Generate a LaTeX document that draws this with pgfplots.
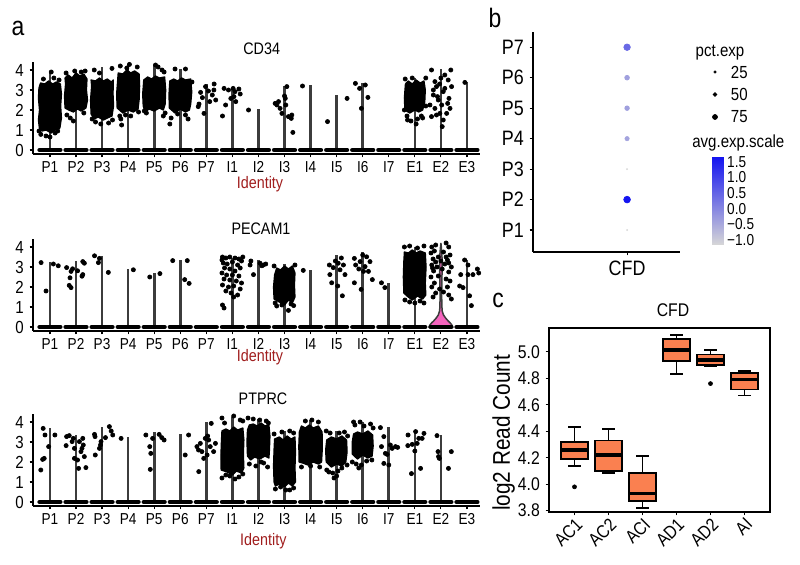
\documentclass[border=0pt]{standalone}
\usepackage{fontspec}
\setmainfont{Liberation Sans}[FakeStretch=0.86]
\usepackage{pgfplots}
\usepackage{pgfplotstable}
\pgfplotsset{compat=1.18}

\definecolor{stem}{RGB}{60,60,60}
\definecolor{idred}{RGB}{160,30,30}
\definecolor{violinpink}{RGB}{245,100,190}
\definecolor{boxorange}{RGB}{250,128,80}

% zero-expression cells: one short band per identity
\pgfplotstableread{
x y
-0.4 0
0.4 0
0.5 nan
0.6 0
1.4 0
1.5 nan
1.6 0
2.4 0
2.5 nan
2.6 0
3.4 0
3.5 nan
3.6 0
4.4 0
4.5 nan
4.6 0
5.4 0
5.5 nan
5.6 0
6.4 0
6.5 nan
6.6 0
7.4 0
7.5 nan
7.6 0
8.4 0
8.5 nan
8.6 0
9.4 0
9.5 nan
9.6 0
10.4 0
10.5 nan
10.6 0
11.4 0
11.5 nan
11.6 0
12.4 0
12.5 nan
12.6 0
13.4 0
13.5 nan
13.6 0
14.4 0
14.5 nan
14.6 0
15.4 0
15.5 nan
15.6 0
16.4 0
}\zeroline

\pgfplotstableread{
x y pct avg
0.64 1 3 -1.0
0.64 2 68 1.5
0.64 3 3 -1.0
0.64 4 40 -0.35
0.64 5 44 -0.3
0.64 6 45 -0.3
0.64 7 66 0.4
}\dotdata

\pgfplotsset{
  /pgf/number format/assume math mode=true,
  vln/.style={
    scale only axis, width=268.2pt, height=55.2pt, anchor=south west,
    xmin=-0.65, xmax=16.5, ymin=-0.2, ymax=4.4,
    axis lines*=left, axis line style={line width=1.1pt},
    xtick={0,...,16},
    xticklabels={P1,P2,P3,P4,P5,P6,P7,I1,I2,I3,I4,I5,I6,I7,E1,E2,E3},
    ytick={0,1,2,3,4},
    tick align=outside, major tick length=2pt,
    tick style={black, line width=0.7pt},
    xticklabel style={font=\fontsize{9.5}{9.5}\selectfont, yshift=1pt},
    yticklabel style={font=\fontsize{10.5}{10.5}\selectfont},
    clip=false,
  },
  stems/.style={ycomb, draw=stem, line width=1.6pt},
  zeros/.style={black, line width=2.6pt, line cap=round, unbounded coords=jump},
  pts/.style={only marks, mark=*, mark size=1.25pt, black},
  core/.style={fill=black, draw=black, line width=0.8pt, line join=round},
  bx/.style={fill=boxorange, draw=black, line width=1.1pt},
}

\begin{document}
\begin{tikzpicture}
\useasboundingbox (0pt,0pt) rectangle (480pt,-339pt);

% panel letters and labels
\node[font=\fontsize{16}{16}\selectfont] at (10.8pt,-17pt) {a};
\node[font=\fontsize{16}{16}\selectfont] at (297pt,-11pt) {b};
\node[font=\fontsize{16}{16}\selectfont] at (298.8pt,-180pt) {c};
\node[font=\fontsize{10}{10}\selectfont] at (157pt,-29.4pt) {CD34};
\node[font=\fontsize{10}{10}\selectfont] at (156.6pt,-137.4pt) {PECAM1};
\node[font=\fontsize{10}{10}\selectfont] at (157.8pt,-239.4pt) {PTPRC};
\node[font=\fontsize{10}{10}\selectfont, text=idred] at (156pt,-110.5pt) {Identity};
\node[font=\fontsize{10}{10}\selectfont, text=idred] at (156pt,-214.5pt) {Identity};
\node[font=\fontsize{10}{10}\selectfont, text=idred] at (158pt,-325pt) {Identity};

% ---------------- a: CD34 ----------------
\begin{axis}[vln, at={(19.8pt,-92.4pt)}]
\addplot[stems] coordinates {(0,3.95) (1,3.95) (2,4.13) (3,4.28) (4,4.23) (5,4.05) (6,3.3) (7,3.12) (8,2.03) (9,3.2) (10,3.25) (11,2.75) (12,3.35) (14,3.62) (15,4.05) (16,3.42)};
\addplot[zeros] table {\zeroline};
\addplot[core] coordinates {(-0.40,1.05) (-0.44,1.5) (-0.40,2.0) (-0.44,2.6) (-0.42,3.1) (-0.36,3.35) (-0.2,3.3) (-0.05,3.45) (0.1,3.3) (0.25,3.4) (0.4,3.3) (0.44,2.8) (0.41,2.2) (0.44,1.6) (0.38,1.1) (0.2,1.0) (0.05,0.85) (-0.15,1.0) (-0.3,0.95)} --cycle;
\addplot[core] coordinates {(0.58,2.1) (0.56,2.7) (0.6,3.3) (0.58,3.6) (0.7,3.75) (0.85,3.6) (1.0,3.85) (1.15,3.7) (1.3,3.8) (1.42,3.55) (1.4,3.0) (1.44,2.5) (1.38,2.1) (1.2,1.95) (1.05,2.05) (0.9,1.9) (0.72,2.0)} --cycle;
\addplot[core] coordinates {(1.58,1.8) (1.56,2.5) (1.6,3.2) (1.58,3.5) (1.75,3.45) (1.9,3.6) (2.05,3.45) (2.2,3.55) (2.35,3.4) (2.43,3.5) (2.42,2.8) (2.44,2.2) (2.38,1.7) (2.2,1.6) (2.05,1.5) (1.85,1.65) (1.7,1.55)} --cycle;
\addplot[core] coordinates {(2.58,2.1) (2.56,2.8) (2.6,3.5) (2.62,3.85) (2.8,3.8) (2.95,4.0) (3.1,3.85) (3.25,3.95) (3.42,3.8) (3.44,3.2) (3.42,2.5) (3.38,2.05) (3.2,1.9) (3.0,2.0) (2.8,1.85)} --cycle;
\addplot[core] coordinates {(3.58,2.2) (3.56,2.8) (3.6,3.5) (3.75,3.65) (3.9,3.55) (4.05,3.7) (4.2,3.6) (4.4,3.65) (4.44,3.0) (4.42,2.3) (4.35,2.0) (4.2,2.1) (4.0,1.95) (3.8,2.05) (3.65,1.9)} --cycle;
\addplot[core] coordinates {(4.58,2.1) (4.57,2.8) (4.6,3.45) (4.75,3.55) (4.9,3.45) (5.05,3.6) (5.2,3.5) (5.4,3.55) (5.44,2.9) (5.4,2.3) (5.35,2.0) (5.2,1.9) (5.0,2.05) (4.8,1.85)} --cycle;
\addplot[core] coordinates {(13.62,2.0) (13.6,2.6) (13.64,3.3) (13.75,3.45) (13.9,3.3) (14.05,3.5) (14.2,3.35) (14.35,3.45) (14.4,3.0) (14.38,2.4) (14.3,2.0) (14.15,1.9) (14.0,2.0) (13.8,1.85)} --cycle;
\addplot[pts] coordinates {
(-0.35,0.78) (-0.15,0.7) (0.0,0.65) (0.2,0.85) (-0.25,3.55) (0.15,3.6) (0.05,3.9) (0.35,3.5) (-0.42,0.95) (0.3,0.95)
(0.65,1.75) (0.78,1.6) (0.9,1.45) (1.3,1.85) (1.35,3.95) (0.95,3.95) (0.62,3.85) (1.2,3.9)
(1.7,4.0) (2.38,4.08) (1.9,3.85) (1.75,1.4) (2.25,1.35) (2.4,1.5) (1.95,1.3) (1.62,1.55)
(2.7,4.2) (3.05,4.28) (3.35,4.15) (2.95,4.1) (2.68,1.7) (2.72,1.55) (2.75,1.25) (2.9,1.75) (3.1,1.7) (3.4,1.9)
(4.05,4.25) (4.15,4.15) (4.3,4.0) (4.38,3.9) (3.62,1.95) (4.35,1.7) (4.42,1.85) (3.7,1.85)
(4.8,4.05) (5.2,4.05) (4.65,1.6) (4.6,1.3) (5.3,1.55) (5.2,1.75) (4.9,1.8) (5.45,3.4)
(5.69,2.17) (5.85,2.62) (5.91,1.83) (5.97,3.17) (6.08,2.95) (6.13,2.42) (6.23,2.75) (6.29,3.0) (6.36,2.5) (5.78,2.88) (6.3,3.3) (5.72,2.3)
(6.62,1.7) (6.68,3.08) (6.74,2.25) (6.85,3.0) (6.94,2.58) (7.03,3.08) (7.06,2.67) (7.13,2.42) (7.1,2.92) (7.25,3.05) (7.3,2.8)
(7.62,2.0)
(8.64,2.33) (8.71,2.25) (8.77,2.42) (8.83,2.08) (8.9,1.83) (9.03,2.58) (9.05,2.25) (9.15,1.67) (9.26,1.58) (9.32,0.88) (9.09,3.17) (9.0,2.7) (9.28,1.75)
(9.69,3.2)
(10.65,1.42) (11.4,2.58)
(11.72,3.33) (11.88,3.08) (11.95,2.08) (12.2,2.63) (12.1,3.25)
(13.63,3.55) (13.7,1.7) (13.72,1.5) (13.85,1.45) (14.05,1.3) (14.3,1.6) (14.25,1.7) (14.1,1.55) (14.42,3.6) (13.9,3.6) (13.6,2.0) (14.42,2.2)
(14.64,4.0) (15.38,4.0) (15.15,3.75) (14.77,3.42) (15.28,3.5) (14.83,3.17) (15.15,3.08) (15.09,2.92) (14.71,2.75) (15.31,2.58) (14.9,2.5) (15.03,2.25) (15.35,2.08) (14.77,2.08) (15.22,1.83) (14.64,1.67) (14.96,1.83) (15.09,1.5) (15.05,1.17) (14.71,3.0) (15.41,3.17) (14.87,2.67) (15.26,2.33) (14.58,2.25) (14.83,1.75) (15.0,3.6) (14.95,3.3)
(15.92,3.38)
};
\end{axis}

% ---------------- a: PECAM1 ----------------
\begin{axis}[vln, at={(19.8pt,-198.6pt)}]
\addplot[fill=violinpink, draw=stem, line width=0.9pt] coordinates {(14.55,0) (14.58,0.1) (14.64,0.2) (14.72,0.3) (14.82,0.45) (14.9,0.6) (14.95,0.8) (14.96,1.0) (14.97,1.5) (14.96,2.5) (14.95,3.0) (14.96,3.6) (14.985,4.0) (15,4.2) (15.015,4.0) (15.04,3.6) (15.05,3.0) (15.04,2.5) (15.03,1.5) (15.04,1.0) (15.05,0.8) (15.1,0.6) (15.18,0.45) (15.28,0.3) (15.36,0.2) (15.42,0.1) (15.45,0)} --cycle;
\addplot[stems] coordinates {(0,3.27) (1,3.32) (2,3.56) (3,2.91) (4,2.72) (5,3.35) (7,3.46) (8,3.35) (9,3.14) (10,2.86) (11,3.59) (12,3.76) (13,2.21) (14,4.0) (16,3.35)};
\addplot[zeros] table {\zeroline};
\addplot[core] coordinates {(8.6,1.4) (8.58,2.0) (8.62,2.6) (8.7,2.95) (8.85,2.85) (9.0,3.05) (9.15,2.9) (9.3,3.05) (9.4,2.7) (9.38,2.1) (9.4,1.5) (9.3,1.2) (9.15,1.35) (9.0,1.1) (8.8,1.25)} --cycle;
\addplot[core] coordinates {(13.58,1.7) (13.56,2.5) (13.58,3.3) (13.6,3.75) (13.75,3.7) (13.9,3.85) (14.05,3.7) (14.2,3.8) (14.4,3.7) (14.43,3.0) (14.4,2.2) (14.42,1.6) (14.3,1.4) (14.1,1.55) (13.9,1.35) (13.7,1.55)} --cycle;
\addplot[pts] coordinates {
(-0.34,3.22) (-0.15,1.8) (0.13,3.15) (0.32,3.06)
(0.64,2.97) (0.81,2.78) (0.77,2.46) (0.81,1.97) (0.87,2.91) (1.06,2.81) (1.26,3.27) (1.32,3.19) (1.26,2.62) (1.23,2.54) (0.74,2.08)
(1.71,3.56) (1.9,3.43) (1.86,3.22) (2.24,2.73)
(3.2,2.86)
(3.83,2.5) (4.22,2.67)
(4.71,3.32) (5.27,3.32) (5.17,2.37) (5.34,2.18)
(6.62,3.5) (6.75,3.45) (6.9,3.5) (7.1,3.45) (7.25,3.4) (7.35,3.3) (6.65,3.2) (6.8,3.15) (7.0,3.25) (7.2,3.1) (6.7,2.95) (6.9,2.9) (7.3,2.95) (7.1,2.8) (6.6,2.7) (6.78,2.6) (7.0,2.6) (7.25,2.55) (6.68,2.4) (6.9,2.35) (7.15,2.3) (7.35,2.2) (6.62,2.1) (6.85,2.0) (7.05,2.05) (7.3,1.9) (6.75,1.8) (6.95,1.7) (7.2,1.6) (7.05,1.5) (6.62,1.1) (6.68,0.95) (7.4,3.5) (6.6,3.35)
(7.71,3.3) (7.68,3.1) (7.81,2.62) (8.06,3.19) (8.19,3.1) (8.28,3.15) (8.13,3.06)
(8.64,1.2) (9.15,0.83) (8.7,1.05) (9.35,1.07) (8.6,3.05) (9.4,3.1) (9.25,1.15) (8.9,1.1)
(9.72,2.83)
(10.72,3.1) (10.74,2.62) (10.87,2.97) (11.06,3.19) (11.13,2.86) (11.26,3.1) (11.04,2.05) (11.22,1.56) (10.81,2.21) (11.32,2.62) (10.95,3.3) (11.18,3.45)
(11.68,3.43) (11.73,3.1) (11.9,3.27) (12.09,3.02) (12.22,2.78) (12.28,3.27) (11.94,1.88) (11.68,2.21) (12.37,2.37) (12.03,2.78) (12.15,3.51) (12.0,3.6) (11.85,2.9)
(12.72,2.21) (12.85,1.97)
(13.6,4.0) (13.8,4.05) (14.35,4.05) (14.1,3.95) (13.62,1.35) (13.8,1.25) (14.2,1.3) (14.35,1.2) (14.0,1.2)
(14.65,4.0) (14.8,4.1) (15.2,4.2) (15.3,4.0) (14.62,3.7) (14.75,3.8) (15.1,3.75) (15.35,3.6) (14.7,3.4) (14.9,3.5) (15.25,3.35) (14.65,3.1) (14.85,3.0) (15.15,3.15) (15.4,3.0) (14.72,2.8) (15.3,2.75) (14.62,2.5) (14.9,2.55) (15.2,2.4) (14.75,2.2) (15.35,2.3) (14.65,2.0) (14.95,1.9) (15.25,2.0) (14.8,1.7) (15.3,1.6) (15.1,1.75) (15.4,1.4) (14.7,1.5) (15.0,3.3) (15.05,2.9) (14.8,3.25) (15.2,3.5) (15.3,3.2) (14.68,2.95)
(15.76,2.62) (15.72,2.05) (15.85,1.97) (16.04,3.1) (16.1,1.56) (16.17,1.07) (16.23,2.62) (16.04,2.62) (15.91,3.35) (16.4,2.9) (16.45,2.7)
};
\end{axis}

% ---------------- a: PTPRC ----------------
\begin{axis}[vln, at={(19.8pt,-303.6pt)}]
\addplot[stems] coordinates {(0,3.72) (1,3.35) (2,3.77) (3,3.23) (4,3.48) (5,3.38) (6,4.02) (7,4.27) (8,4.15) (9,3.55) (10,4.1) (11,3.55) (12,4.0) (13,3.77) (14,3.45) (15,3.35)};
\addplot[zeros] table {\zeroline};
\addplot[core] coordinates {(6.57,1.6) (6.56,2.3) (6.58,3.0) (6.6,3.55) (6.75,3.65) (6.9,3.55) (7.05,3.75) (7.2,3.6) (7.4,3.7) (7.44,3.1) (7.42,2.4) (7.44,1.7) (7.35,1.45) (7.15,1.55) (7.0,1.35) (6.8,1.5)} --cycle;
\addplot[core] coordinates {(7.58,2.3) (7.56,3.0) (7.58,3.6) (7.65,3.85) (7.8,3.9) (7.95,3.8) (8.1,3.95) (8.25,3.8) (8.4,3.85) (8.44,3.3) (8.42,2.6) (8.4,2.2) (8.25,2.3) (8.05,2.15) (7.85,2.25) (7.7,2.1)} --cycle;
\addplot[core] coordinates {(8.6,1.0) (8.58,1.8) (8.6,2.6) (8.62,3.15) (8.8,3.25) (8.95,3.1) (9.1,3.3) (9.25,3.15) (9.4,3.25) (9.42,2.5) (9.4,1.7) (9.42,1.0) (9.3,0.8) (9.15,0.95) (9.0,0.75) (8.8,0.9) (8.65,0.8)} --cycle;
\addplot[core] coordinates {(9.56,2.0) (9.55,2.8) (9.57,3.5) (9.65,3.8) (9.8,3.7) (9.95,3.85) (10.1,3.7) (10.3,3.8) (10.44,3.5) (10.45,2.7) (10.42,2.0) (10.3,1.9) (10.1,2.0) (9.9,1.85) (9.7,1.95)} --cycle;
\addplot[core] coordinates {(10.6,2.0) (10.58,2.6) (10.62,3.1) (10.8,3.25) (11.0,3.15) (11.2,3.3) (11.38,3.1) (11.4,2.5) (11.35,2.0) (11.2,1.8) (11.0,1.9) (10.8,1.75)} --cycle;
\addplot[core] coordinates {(11.6,2.4) (11.6,3.0) (11.65,3.4) (11.8,3.5) (12.0,3.4) (12.2,3.55) (12.38,3.35) (12.4,2.8) (12.36,2.3) (12.2,2.2) (12.0,2.35) (11.8,2.15)} --cycle;
\addplot[pts] coordinates {
(-0.26,3.68) (-0.19,3.35) (-0.22,2.18) (-0.28,2.13) (-0.35,1.6) (-0.05,2.77) (0.19,3.35)
(0.64,3.27) (0.74,3.32) (0.62,2.82) (0.85,3.02) (0.94,2.68) (0.94,2.18) (1.06,2.1) (1.13,3.02) (1.26,3.18) (1.28,2.85) (1.19,2.52) (1.1,1.68) (1.38,1.72) (1.32,2.27) (0.9,3.18) (1.23,2.68)
(1.71,3.38) (1.73,3.27) (1.9,2.68) (1.74,2.35) (1.96,3.02) (2.13,3.22) (2.28,3.77) (2.35,3.55) (2.41,3.35) (1.94,2.85)
(2.73,3.18)
(3.68,3.35) (3.83,2.77) (3.87,2.43) (3.85,1.63) (3.94,3.18) (4.19,3.38) (4.29,3.22) (4.38,3.1)
(5.32,3.35) (5.19,2.35)
(5.71,1.52) (5.64,2.77) (5.77,2.93) (5.83,2.52) (5.96,3.18) (6.09,3.1) (6.15,2.77) (6.19,3.93) (6.35,2.93) (5.9,2.18) (6.03,2.35) (6.28,2.52) (6.05,3.3) (5.7,2.6)
(6.6,4.2) (6.7,3.95) (7.05,4.3) (7.3,4.1) (7.4,4.05) (6.6,1.2) (6.75,1.35) (7.25,1.25) (7.1,1.15) (7.4,1.4) (6.9,1.3)
(7.6,4.2) (7.8,4.15) (8.05,4.1) (8.3,4.05) (8.38,3.95) (7.65,1.9) (7.9,1.8) (8.2,1.95) (8.35,1.75) (8.1,2.0)
(8.65,0.65) (8.85,0.75) (9.2,0.6) (9.35,0.7) (9.05,0.6) (8.6,3.4) (8.9,3.5) (9.2,3.55) (9.35,3.45)
(9.8,4.05) (10.05,4.1) (10.3,4.0) (9.65,1.75) (10.35,1.75) (10.0,1.8)
(10.6,3.55) (10.75,3.45) (11.1,3.45) (11.3,3.5) (11.42,3.3) (10.62,1.6) (10.7,1.5) (10.85,1.45) (11.0,1.3) (11.05,1.55) (11.2,1.7) (11.4,1.85) (10.9,1.2)
(11.65,4.0) (11.7,3.85) (11.9,4.0) (12.05,3.8) (12.3,3.9) (11.6,2.0) (11.75,1.9) (11.85,1.7) (12.15,2.05) (12.35,2.1) (12.4,3.7) (11.95,1.85)
(12.68,3.72) (12.81,3.27) (12.72,2.77) (12.87,2.43) (13.06,2.85) (13.13,2.68) (13.26,2.77) (13.34,2.73) (12.81,1.93) (13.0,1.85) (12.94,2.38)
(13.74,3.35) (13.73,2.82) (13.9,2.88) (14.03,3.52) (14.09,2.93) (14.15,3.18) (14.28,3.18) (14.35,3.43) (13.87,1.42) (14.22,1.68) (14.0,2.55)
(14.85,3.32) (14.89,2.52) (14.94,2.18) (14.91,2.27) (15.29,1.68) (15.4,2.52)
};
\end{axis}

% ---------------- b: dot plot ----------------
\begin{axis}[scale only axis, width=88.2pt, height=132pt, anchor=south west, at={(319.8pt,-151.2pt)},
  xmin=0, xmax=1, ymin=0.28, ymax=7.5,
  axis lines*=left, axis line style={line width=1.1pt},
  xtick={0.64}, xticklabels={CFD}, ytick={1,...,7},
  yticklabels={P1,P2,P3,P4,P5,P6,P7},
  tick align=outside, major tick length=2pt, tick style={black, line width=0.7pt},
  ticklabel style={font=\fontsize{12.5}{12.5}\selectfont},
  colormap={avg}{rgb255=(215,215,215) rgb255=(20,20,240)},
  point meta min=-1, point meta max=1.5]
\addplot[scatter, only marks, mark=*, point meta=explicit,
  scatter/use mapped color={draw=mapped color, fill=mapped color},
  visualization depends on={\thisrow{pct} \as \pct},
  scatter/@pre marker code/.append style={/tikz/mark size=0.25pt+0.026pt*\pct}]
  table[x=x, y=y, meta=avg] {\dotdata};
\end{axis}

% size legend
\node[font=\fontsize{10.5}{10.5}\selectfont] at (432pt,-31.5pt) {pct.exp};
\begin{axis}[scale only axis, width=6pt, height=40.5pt, anchor=south west, at={(426pt,-76.95pt)},
  xmin=0, xmax=1, ymin=0.5, ymax=3.5, axis line style={draw=none},
  xtick=\empty, ytick={1,2,3}, yticklabels={75,50,25}, yticklabel pos=right,
  tick style={draw=none}, yticklabel style={font=\fontsize{10.5}{10.5}\selectfont, xshift=3pt}]
\addplot[only marks, mark=*, mark size=0.75pt] coordinates {(0.5,3)};
\addplot[only marks, mark=*, mark size=1.1pt] coordinates {(0.5,2)};
\addplot[only marks, mark=*, mark size=1.5pt] coordinates {(0.5,1)};
\end{axis}

% colour bar
\node[font=\fontsize{10.5}{10.5}\selectfont] at (443pt,-86pt) {avg.exp.scale};
\begin{axis}[scale only axis, width=6.6pt, height=53pt, anchor=south west, at={(427.2pt,-147pt)},
  xmin=0, xmax=1, ymin=-1.16, ymax=1.66, axis line style={draw=none},
  xtick=\empty, ytick={-1,-0.5,0,0.5,1,1.5},
  yticklabels={−1.0,−0.5,0.0,0.5,1.0,1.5}, yticklabel pos=right, ytick pos=both,
  tick align=inside, major tick length=1.5pt, tick style={white, line width=0.6pt},
  yticklabel style={font=\fontsize{9.5}{8}\selectfont, xshift=-1pt},
  colormap={avg}{rgb255=(215,215,215) rgb255=(20,20,240)},
  point meta min=-1, point meta max=1.5]
\addplot[surf, shader=interp, point meta=y, mesh/rows=2] coordinates {(0,-1.16) (1,-1.16) (0,1.66) (1,1.66)};
\end{axis}

% ---------------- c: boxplot ----------------
\node[font=\fontsize{11}{11}\selectfont] at (403.8pt,-186pt) {CFD};
\begin{axis}[scale only axis, width=132.6pt, height=110.4pt, anchor=south west, at={(329.4pt,-307.2pt)},
  xmin=-0.75, xmax=5.75, ymin=3.79, ymax=5.18,
  axis line style={line width=1.2pt},
  xtick={0,...,5}, xticklabels={AC1,AC2,ACI,AD1,AD2,AI},
  ytick={3.8,4.0,4.2,4.4,4.6,4.8,5.0},
  yticklabel style={/pgf/number format/.cd, fixed, fixed zerofill, precision=1},
  tick pos=left, tick align=outside, major tick length=2pt, tick style={black, line width=0.7pt},
  ticklabel style={font=\fontsize{11}{11}\selectfont},
  xticklabel style={rotate=45, anchor=north east, inner sep=0.5pt},
  ylabel={log2 Read Count},
  ylabel style={at={(rel axis cs:-0.205,0.43)}, rotate=0, anchor=center, font=\fontsize{14.5}{14.5}\selectfont},
  ]
% whiskers with caps
\addplot[black, line width=1.1pt, unbounded coords=jump] coordinates {
(0,4.32) (0,4.43) (0,nan) (-0.185,4.43) (0.185,4.43) (0,nan) (0,4.19) (0,4.14) (0,nan) (-0.185,4.14) (0.185,4.14) (0,nan)
(1,4.33) (1,4.42) (1,nan) (0.815,4.42) (1.185,4.42) (1,nan) (1,4.10) (1,4.086) (1,nan) (0.815,4.086) (1.185,4.086) (1,nan)
(2,4.086) (2,4.21) (2,nan) (1.815,4.21) (2.185,4.21) (2,nan) (2,3.87) (2,3.82) (2,nan) (1.815,3.82) (2.185,3.82) (2,nan)
(3,5.10) (3,5.13) (3,nan) (2.815,5.13) (3.185,5.13) (3,nan) (3,4.93) (3,4.83) (3,nan) (2.815,4.83) (3.185,4.83) (3,nan)
(4,4.98) (4,5.015) (4,nan) (3.815,5.015) (4.185,5.015) (4,nan) (4,4.90) (4,4.895) (4,nan) (3.815,4.895) (4.185,4.895) (4,nan)
(5,4.84) (5,4.855) (5,nan) (4.815,4.855) (5.185,4.855) (5,nan) (5,4.715) (5,4.67) (5,nan) (4.815,4.67) (5.185,4.67)
};
% boxes (lower to upper quartile)
\addplot[bx] coordinates {(-0.4,4.19) (0.4,4.19) (0.4,4.32) (-0.4,4.32)} --cycle;
\addplot[bx] coordinates {(0.6,4.10) (1.4,4.10) (1.4,4.33) (0.6,4.33)} --cycle;
\addplot[bx] coordinates {(1.6,3.87) (2.4,3.87) (2.4,4.086) (1.6,4.086)} --cycle;
\addplot[bx] coordinates {(2.6,4.93) (3.4,4.93) (3.4,5.10) (2.6,5.10)} --cycle;
\addplot[bx] coordinates {(3.6,4.90) (4.4,4.90) (4.4,4.98) (3.6,4.98)} --cycle;
\addplot[bx] coordinates {(4.6,4.715) (5.4,4.715) (5.4,4.84) (4.6,4.84)} --cycle;
% medians
\addplot[black, line width=2.2pt, unbounded coords=jump] coordinates {
(-0.4,4.257) (0.4,4.257) (0.5,nan) (0.6,4.22) (1.4,4.22) (1.5,nan) (1.6,3.93) (2.4,3.93) (2.5,nan)
(2.6,5.015) (3.4,5.015) (3.5,nan) (3.6,4.94) (4.4,4.94) (4.5,nan) (4.6,4.79) (5.4,4.79)};
% outliers
\addplot[only marks, mark=*, mark size=1.2pt, black] coordinates {(0,3.98) (4,4.76)};
\end{axis}
\end{tikzpicture}
\end{document}
